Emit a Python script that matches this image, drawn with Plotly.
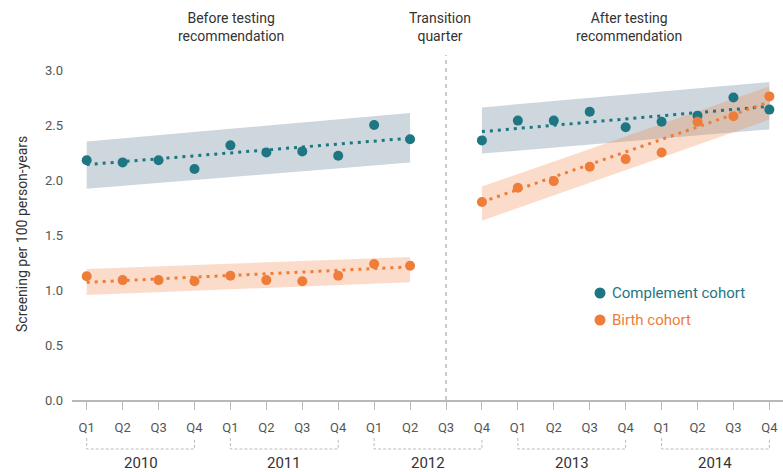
import plotly.graph_objects as go

quarter_labels = ["Q1", "Q2", "Q3", "Q4"] * 5
years = ["2010", "2011", "2012", "2013", "2014"]
x_idx = list(range(20))

complement = [2.18, 2.16, 2.18, 2.10, 2.315, 2.25, 2.26, 2.22, 2.50, 2.37,
              None, 2.36, 2.54, 2.54, 2.62, 2.48, 2.53, 2.585, 2.75, 2.64]
birth = [1.125, 1.09, 1.09, 1.08, 1.13, 1.09, 1.08, 1.13, 1.236, 1.22,
         None, 1.80, 1.93, 1.99, 2.12, 2.19, 2.25, 2.53, 2.58, 2.76]

# segment endpoints (index of quarter)
seg_before = [0, 9]
seg_after = [11, 19]

comp_trend_before = [2.14, 2.38]
comp_upper_before = [2.35, 2.61]
comp_lower_before = [1.92, 2.16]
birth_trend_before = [1.07, 1.21]
birth_upper_before = [1.19, 1.30]
birth_lower_before = [0.955, 1.07]

comp_trend_after = [2.44, 2.67]
comp_upper_after = [2.66, 2.89]
comp_lower_after = [2.24, 2.46]
birth_trend_after = [1.80, 2.71]
birth_upper_after = [1.94, 2.85]
birth_lower_after = [1.63, 2.55]

TEAL = "#1e7682"
ORANGE = "#ef7d3a"
TEAL_BAND = "rgba(120,145,160,0.36)"
ORANGE_BAND = "rgba(240,125,58,0.27)"
FONT = "Roboto"

W, H = 783, 472
PLOT_TOP, PLOT_BOT = 50, 400
PLOT_LEFT = 72

fig = go.Figure()

def band(seg, up, lo, color):
    fig.add_trace(go.Scatter(
        x=[seg[0], seg[1], seg[1], seg[0], seg[0]],
        y=[up[0], up[1], lo[1], lo[0], up[0]],
        fill="toself", fillcolor=color, line=dict(width=0),
        mode="lines", hoverinfo="skip", showlegend=False))

band(seg_before, comp_upper_before, comp_lower_before, TEAL_BAND)
band(seg_after, comp_upper_after, comp_lower_after, TEAL_BAND)
band(seg_before, birth_upper_before, birth_lower_before, ORANGE_BAND)
band(seg_after, birth_upper_after, birth_lower_after, ORANGE_BAND)

def trend(seg, vals, color):
    fig.add_trace(go.Scatter(
        x=seg, y=vals, mode="lines",
        line=dict(color=color, width=3, dash="3px,5px"),
        hoverinfo="skip", showlegend=False))

trend(seg_before, comp_trend_before, TEAL)
trend(seg_after, comp_trend_after, TEAL)
trend(seg_before, birth_trend_before, ORANGE)
trend(seg_after, birth_trend_after, ORANGE)

fig.add_trace(go.Scatter(x=x_idx, y=complement, mode="markers",
                         marker=dict(color=TEAL, size=10),
                         name="Complement cohort", showlegend=False))
fig.add_trace(go.Scatter(x=x_idx, y=birth, mode="markers",
                         marker=dict(color=ORANGE, size=10),
                         name="Birth cohort", showlegend=False))

def py(pix):
    return (PLOT_BOT - pix) / (PLOT_BOT - PLOT_TOP)

def pxp(pix):
    return (pix - PLOT_LEFT) / (W - PLOT_LEFT)

X0_PIX, X_STEP = 86.7, 35.93
def xd(pix):
    return (pix - X0_PIX) / X_STEP

shapes = []
annotations = []
# transition dashed line
shapes.append(dict(type="line", xref="x", yref="paper", x0=10, x1=10,
                   y0=0, y1=py(55), line=dict(color="#bbbbbb", width=1.5, dash="4px,4px")))
# year brackets
for i, yr in enumerate(years):
    a, b = 4 * i, 4 * i + 3
    shapes.append(dict(type="path", xref="x", yref="paper",
                       path=f"M {a},{py(438)} L {a},{py(449)} L {b},{py(449)} L {b},{py(438)}",
                       line=dict(color="#bbbbbb", width=1, dash="3px,2px")))
    annotations.append(dict(x=(a + b) / 2, y=py(463), xref="x", yref="paper",
                            text=yr, showarrow=False, xanchor="center", yanchor="middle",
                            font=dict(family=FONT, size=15, color="#333333")))

# header annotations
for xpix, txt in [(231, "Before testing<br>recommendation"),
                  (440, "Transition<br>quarter"),
                  (629, "After testing<br>recommendation")]:
    annotations.append(dict(x=xd(xpix), y=py(27), xref="x", yref="paper", text=txt,
                            showarrow=False, xanchor="center", yanchor="middle",
                            font=dict(family=FONT, size=14, color="#333333")))

# y title
annotations.append(dict(x=pxp(22), y=py(234), xref="paper", yref="paper",
                        text="Screening per 100 person-years",
                        showarrow=False, textangle=-90, xanchor="center", yanchor="middle",
                        font=dict(family=FONT, size=14, color="#333333")))

# legend
for yy, name, col in [(293, "Complement cohort", TEAL), (320, "Birth cohort", ORANGE)]:
    shapes.append(dict(type="circle", xref="x", yref="paper", xsizemode="pixel", ysizemode="pixel",
                       xanchor=xd(600), yanchor=py(yy),
                       x0=-5.5, x1=5.5, y0=-5.5, y1=5.5,
                       fillcolor=col, line=dict(width=0)))
    annotations.append(dict(x=xd(610), y=py(yy), xref="x", yref="paper", text=name,
                            showarrow=False, xanchor="left", yanchor="middle",
                            font=dict(family=FONT, size=15, color=col)))

fig.update_layout(
    width=W, height=H,
    margin=dict(l=PLOT_LEFT, r=0, t=PLOT_TOP, b=H - PLOT_BOT),
    plot_bgcolor="white", paper_bgcolor="white",
    shapes=shapes, annotations=annotations,
    showlegend=False,
    xaxis=dict(range=[xd(PLOT_LEFT), xd(W)], tickvals=x_idx, ticktext=quarter_labels,
               showgrid=False, zeroline=False, showline=True, linecolor="#b8b8b8", linewidth=2,
               ticks="outside", ticklen=8, tickcolor="#b8b8b8", tickwidth=1,
               ticklabeloverflow="allow",
               tickfont=dict(family=FONT, size=13, color="#555555"), ticklabelstandoff=6),
    yaxis=dict(range=[0, 350 / 110], tickvals=[0, 0.5, 1, 1.5, 2, 2.5, 3],
               ticktext=["0.0", "0.5", "1.0", "1.5", "2.0", "2.5", "3.0"],
               showgrid=False, zeroline=False, showline=False, ticks="",
               tickfont=dict(family=FONT, size=13, color="#555555"), ticklabelstandoff=8),
)

fig.write_html("out.html",
               config={"displayModeBar": False},
               post_script="document.body.style.margin='0';document.body.style.overflow='hidden';")
